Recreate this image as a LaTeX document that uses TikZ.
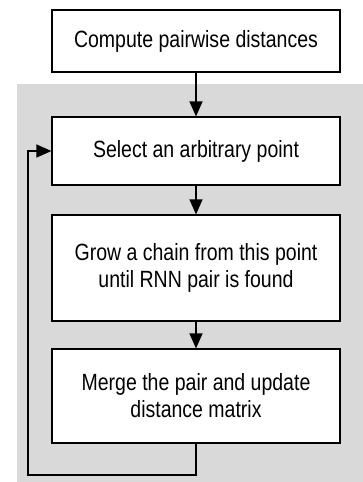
\documentclass[tikz,border=0pt]{standalone}
\usepackage{fontspec}
\setmainfont[FakeStretch=0.83]{Liberation Sans}
\usetikzlibrary{arrows.meta}

\tikzset{
	stepbox/.style={draw, fill=white, line width=1.2pt, minimum width=288pt, align=center,
		font=\fontsize{23.5}{27}\selectfont, inner sep=0pt},
	flow/.style={line width=1.2pt, -{Triangle[length=15pt,width=13pt]}}
}

\begin{document}
\begin{tikzpicture}[x=1pt,y=-1pt]
	\useasboundingbox (0,0) rectangle (363,482);
	% loop area
	\fill[gray!30] (17,84) rectangle (363,482);
	% boxes
	\node[stepbox, minimum height=62pt] (dist) at (196,41) {Compute pairwise distances};
	\node[stepbox, minimum height=68pt] (select) at (196,151) {Select an arbitrary point};
	\node[stepbox, minimum height=106pt] (grow) at (196,268) {Grow a chain from this point\\until RNN pair is found};
	\node[stepbox, minimum height=94pt] (merge) at (196,396) {Merge the pair and update\\distance matrix};
	\coordinate (back) at (28,475);
	% connections
	\draw[flow] (dist) -- (select);
	\draw[flow] (select) -- (grow);
	\draw[flow] (grow) -- (merge);
	\draw[flow] (merge.south) |- (back) |- (select.west);
\end{tikzpicture}
\end{document}
